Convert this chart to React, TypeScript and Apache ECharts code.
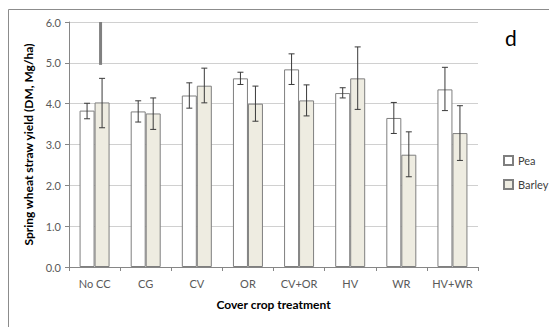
import React, { useEffect, useRef } from "react";
import * as echarts from "echarts";

const categories = ["No CC", "CG", "CV", "OR", "CV+OR", "HV", "WR", "HV+WR"];
const peaValues = [3.83, 3.81, 4.2, 4.62, 4.84, 4.26, 3.65, 4.35];
const peaLow = [3.63, 3.55, 3.89, 4.47, 4.47, 4.14, 3.27, 3.83];
const peaHigh = [4.01, 4.07, 4.51, 4.77, 5.22, 4.39, 4.03, 4.89];
const barleyValues = [4.03, 3.76, 4.44, 4.0, 4.08, 4.62, 2.75, 3.28];
const barleyLow = [3.41, 3.37, 4.02, 3.57, 3.7, 3.86, 2.21, 2.61];
const barleyHigh = [4.62, 4.14, 4.87, 4.43, 4.46, 5.39, 3.31, 3.95];
// stray vertical mark over "No CC" barley bar: [categoryIndex, from, to]
const artifactSegment = [[0, 4.95, 6.0]];
const yTicks = { min: 0, max: 6, interval: 1 };

const FONT = "Lato, 'Open Sans', sans-serif";

export default function App() {
  const ref = useRef<HTMLDivElement>(null);
  useEffect(() => {
    document.body.style.margin = "0";
    const chart = echarts.init(ref.current!, null, { renderer: "svg" });
    const errSeries = (name: string, low: number[], high: number[], offset: number) => ({
      type: "custom",
      name,
      silent: true,
      z: 5,
      data: low.map((l, i) => [i, l, high[i]]),
      renderItem: (params: any, api: any) => {
        const i = api.value(0);
        const p1 = api.coord([i, api.value(1)]);
        const p2 = api.coord([i, api.value(2)]);
        const x = p1[0] + offset;
        const cap = 3;
        const style = { stroke: "#3a3a3a", lineWidth: 1 };
        return {
          type: "group",
          children: [
            { type: "line", shape: { x1: x, y1: p1[1], x2: x, y2: p2[1] }, style },
            { type: "line", shape: { x1: x - cap, y1: p1[1], x2: x + cap, y2: p1[1] }, style },
            { type: "line", shape: { x1: x - cap, y1: p2[1], x2: x + cap, y2: p2[1] }, style },
          ],
        };
      },
    });
    chart.setOption({
      animation: false,
      textStyle: { fontFamily: FONT },
      graphic: [
        {
          type: "line",
          left: 6,
          top: 7,
          shape: { x1: 0, y1: 0.5, x2: 545, y2: 0.5 },
          style: { stroke: "#8c8c8c", lineWidth: 1 },
          z: 100,
        },
        {
          type: "line",
          left: 6,
          top: 7,
          shape: { x1: 0.5, y1: 0, x2: 0.5, y2: 319 },
          style: { stroke: "#8c8c8c", lineWidth: 1 },
          z: 100,
        },
        {
          type: "line",
          left: 6,
          top: 325,
          shape: { x1: 0, y1: 0.5, x2: 545, y2: 0.5 },
          style: { stroke: "#bdbdbd", lineWidth: 1 },
          z: 100,
        },
        {
          type: "text",
          left: 505,
          top: 27,
          style: { text: "d", font: `21px ${FONT}`, fill: "#000" },
        },
      ],
      grid: { left: 69, right: 71, top: 22, bottom: 60 },
      legend: {
        orient: "vertical",
        left: 498,
        top: 150,
        icon: "rect",
        itemWidth: 9,
        itemHeight: 9,
        itemGap: 13,
        textStyle: { fontSize: 11, color: "#404040", fontFamily: FONT },
        data: ["Pea", "Barley"],
      },
      xAxis: {
        type: "category",
        data: categories,
        name: "Cover crop treatment",
        nameLocation: "middle",
        nameGap: 31,
        nameTextStyle: { fontSize: 12, fontWeight: "bold", color: "#000" },
        axisLine: { lineStyle: { color: "#868686" } },
        axisTick: { show: true, length: 4, lineStyle: { color: "#868686" } },
        axisLabel: { fontSize: 11, color: "#595959", margin: 11, interval: 0 },
      },
      yAxis: {
        type: "value",
        min: yTicks.min,
        max: yTicks.max,
        interval: yTicks.interval,
        name: "Spring wheat straw yield (DM, Mg/ha)",
        nameLocation: "middle",
        nameGap: 33,
        nameTextStyle: { fontSize: 12, fontWeight: "bold", color: "#000" },
        axisLine: { show: true, lineStyle: { color: "#868686" } },
        axisTick: { show: true, length: 4, lineStyle: { color: "#868686" } },
        axisLabel: {
          fontSize: 11,
          color: "#595959",
          margin: 8,
          formatter: (v: number) => v.toFixed(1),
        },
        splitLine: { lineStyle: { color: "#d0d0d0" } },
      },
      series: [
        {
          type: "bar",
          name: "Pea",
          data: peaValues,
          barWidth: 15,
          barGap: "0%",
          itemStyle: { color: "#ffffff", borderColor: "#7f7f7f", borderWidth: 1 },
        },
        {
          type: "bar",
          name: "Barley",
          data: barleyValues,
          barWidth: 15,
          barGap: "0%",
          itemStyle: { color: "#eeece1", borderColor: "#7f7f7f", borderWidth: 1 },
        },
        errSeries("peaErr", peaLow, peaHigh, -7.5),
        errSeries("barleyErr", barleyLow, barleyHigh, 7.5),
        {
          type: "custom",
          name: "artifact",
          silent: true,
          z: 6,
          data: artifactSegment,
          renderItem: (params: any, api: any) => {
            const i = api.value(0);
            const p1 = api.coord([i, api.value(1)]);
            const p2 = api.coord([i, api.value(2)]);
            return {
              type: "rect",
              shape: { x: p1[0] + 4.5, y: p2[1], width: 3, height: p1[1] - p2[1] },
              style: { fill: "#808080" },
            };
          },
        },
      ],
    });
    return () => chart.dispose();
  }, []);
  return <div ref={ref} style={{ width: 549, height: 327 }} />;
}
